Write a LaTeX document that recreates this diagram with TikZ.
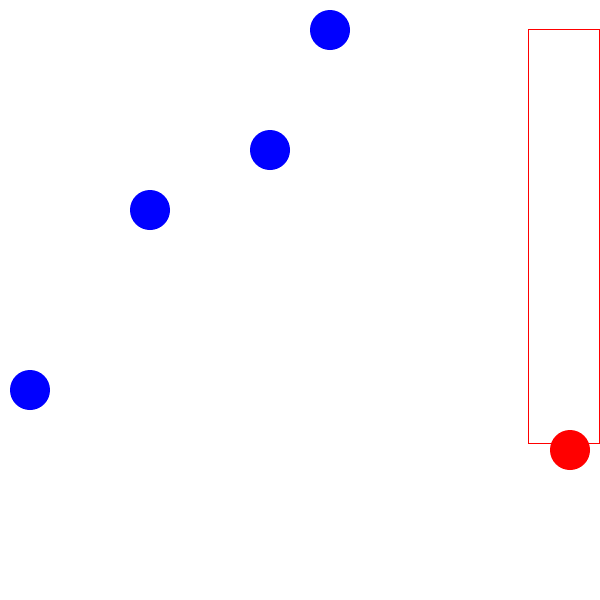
\documentclass[tikz,border=0pt]{standalone}
\begin{document}
\begin{tikzpicture}[x=1pt,y=-1pt,
  bluedot/.style={fill=blue,draw=none,circle,minimum size=40pt,inner sep=0pt},
  reddot/.style={fill=red,draw=none,circle,minimum size=40pt,inner sep=0pt},
  box/.style={draw=red,line width=1pt}]
\useasboundingbox (0,0) rectangle (600,600);
\draw[box] (528.5,29.5) rectangle (599.5,443.5);
\node[bluedot] (b1) at (330,30) {};
\node[bluedot] (b2) at (270,150) {};
\node[bluedot] (b3) at (150,210) {};
\node[bluedot] (b4) at (30,390) {};
\node[reddot] (r1) at (570,450) {};
\end{tikzpicture}
\end{document}
